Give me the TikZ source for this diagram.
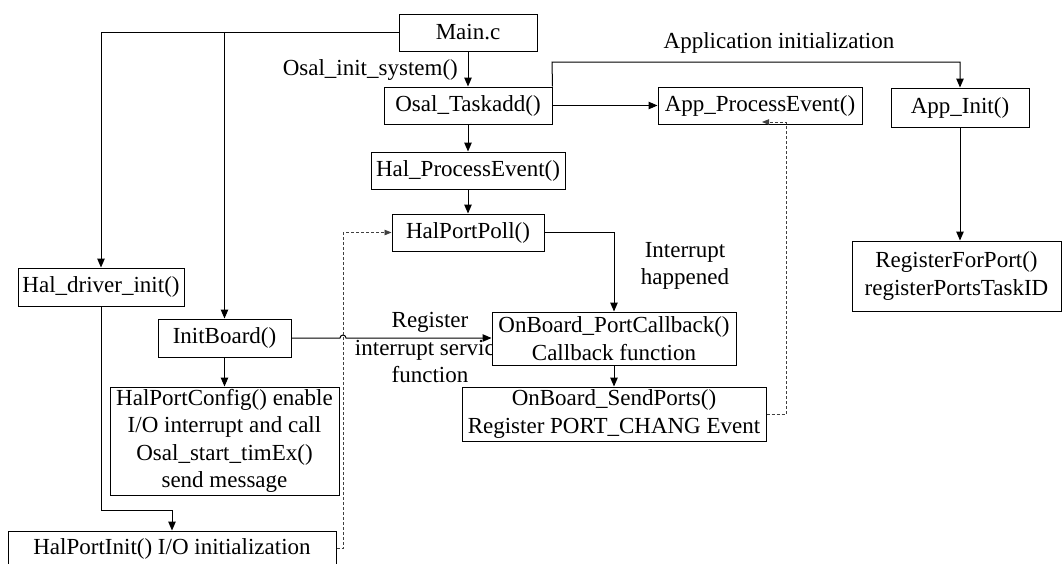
\documentclass[tikz,border=0pt]{standalone}
\usepackage{fontspec}
\setmainfont{Liberation Serif}
\usetikzlibrary{arrows.meta,calc}
\begin{document}
\begin{tikzpicture}[x=1pt,y=-1pt,
  box/.style={draw,line width=1pt,fill=white,inner sep=0pt,align=center,font=\fontsize{23}{27.5}\selectfont},
  lbl/.style={inner sep=0pt,align=center,font=\fontsize{23}{27.5}\selectfont},
  conn/.style={line width=1pt,-{Triangle[length=9pt,width=7.5pt]}},
  plain/.style={line width=1pt},
  dconn/.style={line width=0.8pt,black!75,dash pattern=on 3pt off 2pt,-{Triangle[length=7pt,width=5.5pt]}},
]
\useasboundingbox (0,0) rectangle (1062,563);

% labels
\node[lbl] (reglbl) at (430,347.5) {Register\\interrupt service\\function};
\node[lbl,anchor=east] (osalinit) at (458,70) {Osal\_init\_system()};
\node[lbl] (appinitlbl) at (779,43) {Application initialization};
\node[lbl] (intlbl) at (685,266) {Interrupt\\happened};

% boxes
\node[box,minimum width=138,minimum height=37] (main) at (468,32.5) {Main.c};
\node[box,minimum width=168,minimum height=37] (taskadd) at (468,105.5) {Osal\_Taskadd()};
\node[box,minimum width=194,minimum height=37] (halpe) at (468,170.5) {Hal\_ProcessEvent()};
\node[box,minimum width=152,minimum height=37] (poll) at (468,232.5) {HalPortPoll()};
\node[box,minimum width=204,minimum height=37] (appe) at (760,105.5) {App\_ProcessEvent()};
\node[box,minimum width=138,minimum height=39] (appinit) at (960,107.5) {App\_Init()};
\node[box,minimum width=209,minimum height=70] (regport) at (956.5,276) {RegisterForPort()\\registerPortsTaskID};
\node[box,minimum width=166,minimum height=38] (hdi) at (101,287) {Hal\_driver\_init()};
\node[box,minimum width=133,minimum height=38] (initboard) at (224.5,338) {InitBoard()};
\node[box,minimum width=229,minimum height=108] (config) at (224.5,441) {HalPortConfig() enable\\I/O interrupt and call\\Osal\_start\_timEx()\\send message};
\node[box,minimum width=328,minimum height=35] (portinit) at (172,548.5) {HalPortInit() I/O initialization};
\node[box,minimum width=244,minimum height=53] (cb) at (614,338.5) {OnBoard\_PortCallback()\\Callback function};
\node[box,minimum width=304,minimum height=54] (send) at (614,414) {OnBoard\_SendPorts()\\Register PORT\_CHANG Event};

% coordinates
\coordinate (tee) at (initboard.north |- main.west);
\coordinate (leftc) at (hdi.north |- main.west);
\coordinate (topr) at (552,62);
\coordinate (jump) at (343,338);
\coordinate (hdibend) at (101,510);
\coordinate (dashx) at (343,548);
\coordinate (dashr) at (786,414);
\coordinate (apptip) at (762,122);

% solid connectors
\draw[conn] (main.west) -- (leftc) -- (hdi.north);
\draw[conn] (tee) -- (initboard.north);
\draw[conn] (main.south) -- (taskadd.north);
\draw[conn] (taskadd.south) -- (halpe.north);
\draw[conn] (halpe.south) -- (poll.north);
\draw[conn] (taskadd.east) -- (appe.west);
\draw[conn] (taskadd.north east) -- (topr) -- (topr -| appinit.north) -- (appinit.north);
\draw[conn] (appinit.south) -- (appinit.south |- regport.north);
\draw[conn] (poll.east) -- (poll.east -| cb.north) -- (cb.north);
\draw[conn] (initboard.east) -- ([xshift=-3pt]jump) arc[start angle=180,end angle=0,radius=3pt] -- (initboard.east -| cb.west);
\draw[conn] (cb.south) -- (send.north);
\draw[conn] (initboard.south) -- (config.north);
\draw[conn] (hdi.south) -- (hdibend) -- (hdibend -| portinit.north) -- (portinit.north);

% dashed connectors
\draw[dconn] (portinit.east |- dashx) -- (dashx) -- (dashx |- poll.west) -- (poll.west);
\draw[dconn] (send.east) -- (dashr) -- (dashr |- apptip) -- (apptip);

\end{tikzpicture}
\end{document}
